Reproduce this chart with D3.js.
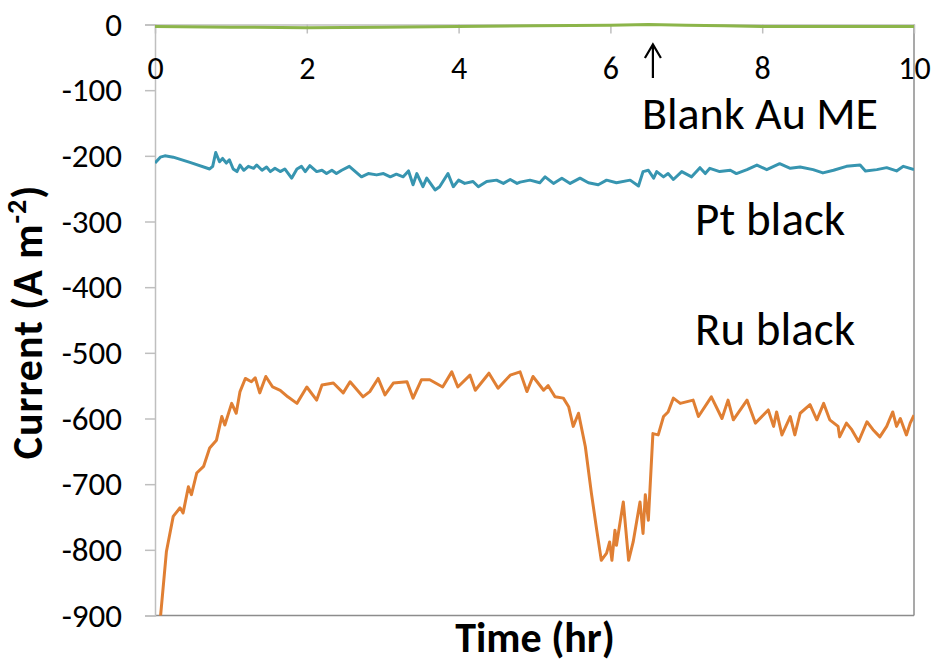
<!DOCTYPE html>
<html>
<head>
<meta charset="utf-8">
<script src="https://cdn.jsdelivr.net/npm/d3@7"></script>
<style>
  html, body { margin: 0; padding: 0; background: #fff; }
  svg { display: block; font-family: Carlito, Calibri, "Liberation Sans", Arial, sans-serif; }
</style>
</head>
<body>
<svg id="chart" width="936" height="665"></svg>
<script>
// ---- data (time in hr, current in A m^-2) ----
const xTicks = [0, 2, 4, 6, 8, 10];
const yTicks = [0, -100, -200, -300, -400, -500, -600, -700, -800, -900];

const blankT = [0, 1, 2, 3, 4, 5, 6, 6.5, 7, 7.5, 8, 9, 10];
const blankV = [-3, -4, -5, -4, -3, -2, -1, 0, -1, -2, -3, -3, -3];

const ptT = [0.00,0.07,0.13,0.24,0.46,0.72,0.76,0.80,0.85,0.89,0.94,0.98,1.03,1.08,1.12,1.17,1.23,1.30,1.34,1.41,1.47,1.52,1.58,1.65,1.71,1.80,1.87,1.93,1.98,2.04,2.13,2.20,2.26,2.33,2.39,2.46,2.56,2.64,2.72,2.81,2.92,3.01,3.10,3.18,3.27,3.34,3.40,3.45,3.53,3.58,3.69,3.75,3.86,3.93,4.00,4.08,4.19,4.26,4.37,4.50,4.59,4.68,4.77,4.81,4.94,5.07,5.14,5.25,5.36,5.47,5.60,5.71,5.84,5.95,6.08,6.26,6.37,6.43,6.50,6.57,6.61,6.70,6.76,6.83,6.94,7.07,7.18,7.25,7.31,7.44,7.58,7.66,7.80,7.93,8.06,8.23,8.37,8.50,8.67,8.80,8.94,9.11,9.29,9.36,9.51,9.64,9.77,9.86,10.00];
const ptV = [-211,-202,-200,-202,-210,-220,-216,-195,-209,-204,-211,-206,-220,-224,-214,-222,-216,-219,-214,-222,-217,-224,-219,-224,-220,-234,-220,-216,-224,-215,-224,-222,-227,-222,-227,-222,-216,-224,-232,-227,-229,-227,-232,-228,-232,-223,-244,-227,-247,-234,-252,-247,-227,-247,-237,-242,-239,-247,-239,-237,-242,-236,-242,-240,-237,-241,-232,-242,-234,-242,-234,-241,-244,-237,-241,-237,-246,-224,-222,-234,-224,-232,-227,-236,-224,-232,-218,-227,-219,-224,-222,-227,-221,-214,-221,-212,-219,-217,-221,-226,-222,-216,-214,-223,-221,-218,-223,-216,-221];

const ruT = [0.07,0.15,0.24,0.33,0.37,0.44,0.48,0.55,0.64,0.72,0.81,0.88,0.92,1.01,1.07,1.12,1.19,1.27,1.32,1.38,1.46,1.55,1.65,1.75,1.87,2.00,2.13,2.20,2.35,2.48,2.57,2.74,2.83,2.94,3.03,3.14,3.32,3.40,3.51,3.62,3.79,3.91,3.99,4.15,4.22,4.40,4.52,4.68,4.81,4.90,4.98,5.12,5.18,5.27,5.38,5.45,5.51,5.58,5.67,5.75,5.82,5.88,5.95,5.99,6.02,6.06,6.08,6.17,6.24,6.30,6.39,6.43,6.46,6.50,6.56,6.63,6.70,6.76,6.83,6.92,7.09,7.16,7.33,7.47,7.55,7.62,7.80,7.91,8.08,8.15,8.19,8.26,8.37,8.43,8.50,8.63,8.72,8.81,8.89,9.00,9.02,9.11,9.18,9.27,9.38,9.46,9.55,9.64,9.72,9.77,9.82,9.90,9.95,10.00];
const ruV = [-905,-803,-749,-736,-744,-704,-716,-683,-673,-645,-633,-597,-610,-577,-592,-559,-539,-544,-538,-561,-536,-552,-557,-567,-577,-552,-572,-549,-546,-561,-544,-567,-559,-539,-564,-546,-544,-569,-541,-541,-552,-529,-552,-534,-557,-531,-554,-534,-529,-559,-536,-557,-550,-567,-569,-582,-612,-592,-643,-714,-770,-816,-805,-788,-816,-770,-793,-727,-816,-788,-727,-775,-716,-755,-623,-625,-597,-590,-569,-577,-572,-597,-567,-600,-572,-602,-572,-607,-587,-612,-590,-625,-597,-625,-592,-579,-602,-577,-602,-612,-628,-607,-617,-635,-605,-617,-628,-612,-590,-612,-600,-625,-607,-595];

const seriesNames = ["Blank Au ME", "Pt black", "Ru black"];
const arrowTime = 6.56;

// ---- drawing ----
const FONT = "Carlito, Calibri, 'Liberation Sans', Arial, sans-serif";
const svg = d3.select("#chart");
const x = d3.scaleLinear().domain([0, 10]).range([155, 914]);
const y = d3.scaleLinear().domain([-900, 0]).range([615.5, 24.5]);

const axisGrey = "#bfbfbf";
const borderGrey = "#8c8c8c";

// plot border (right & bottom)
svg.append("line").attr("x1", x(10)).attr("x2", x(10)).attr("y1", y(0)).attr("y2", y(-900))
  .attr("stroke", borderGrey).attr("stroke-width", 1.5);
svg.append("line").attr("x1", x(0)).attr("x2", x(10)).attr("y1", y(-900)).attr("y2", y(-900))
  .attr("stroke", borderGrey).attr("stroke-width", 1.5);

// Y axis
const yAxis = d3.axisLeft(y).tickValues(yTicks).tickSize(10).tickPadding(23).tickFormat(d => String(d));
const gy = svg.append("g").attr("transform", `translate(${x(0)},0)`).call(yAxis);
gy.select(".domain").attr("stroke", axisGrey).attr("stroke-width", 1.5);
gy.selectAll(".tick line").attr("stroke", axisGrey).attr("stroke-width", 1.5);
gy.selectAll(".tick text").attr("font-size", 33).attr("fill", "#000").attr("font-family", FONT);

// X axis (at y = 0, top)
const xAxis = d3.axisBottom(x).tickValues(xTicks).tickSize(9).tickSizeOuter(0).tickPadding(23).tickFormat(d => String(d));
const gx = svg.append("g").attr("transform", `translate(0,${y(0)})`).call(xAxis);
gx.select(".domain").attr("stroke", axisGrey).attr("stroke-width", 1.5);
gx.selectAll(".tick line").attr("stroke", axisGrey).attr("stroke-width", 1.5);
gx.selectAll(".tick text").attr("font-size", 32).attr("fill", "#000").attr("font-family", FONT);

// clip
svg.append("clipPath").attr("id", "clip").append("rect")
  .attr("x", x(0)).attr("y", y(0) - 5).attr("width", x(10) - x(0)).attr("height", y(-900) - y(0) + 5);

const line = d3.line().x(d => x(d[0])).y(d => y(d[1]));
const series = [
  { t: blankT, v: blankV, color: "#8cb54a" },
  { t: ptT, v: ptV, color: "#3795b0" },
  { t: ruT, v: ruV, color: "#e07f33" }
];
const gl = svg.append("g").attr("clip-path", "url(#clip)");
series.forEach(s => {
  gl.append("path").datum(s.t.map((t, i) => [t, s.v[i]]))
    .attr("d", line).attr("fill", "none").attr("stroke", s.color)
    .attr("stroke-width", 3).attr("stroke-linejoin", "round");
});

// series labels
svg.append("text").attr("x", 642).attr("y", 129).attr("font-size", 46).text(seriesNames[0]);
svg.append("text").attr("x", 695).attr("y", 235).attr("font-size", 47).text(seriesNames[1]);
svg.append("text").attr("x", 695).attr("y", 345).attr("font-size", 47).text(seriesNames[2]);

// arrow
const ax = x(arrowTime);
svg.append("path")
  .attr("d", `M${ax},78 L${ax},45 M${ax - 8},58 L${ax},44.5 L${ax + 8},58`)
  .attr("fill", "none").attr("stroke", "#000").attr("stroke-width", 2.2)
  .attr("stroke-linejoin", "miter");

// axis titles
svg.append("text").attr("x", 535).attr("y", 652).attr("text-anchor", "middle")
  .attr("font-size", 42).attr("font-weight", "bold").text("Time (hr)");

const yt = svg.append("text").attr("transform", "translate(42,322) rotate(-90)")
  .attr("text-anchor", "middle").attr("font-size", 42).attr("font-weight", "bold")
  .attr("letter-spacing", 1);
yt.append("tspan").text("Current (A m");
yt.append("tspan").attr("font-size", 28).attr("dy", -16).text("-2");
yt.append("tspan").attr("dy", 16).text(")");
</script>
</body>
</html>
